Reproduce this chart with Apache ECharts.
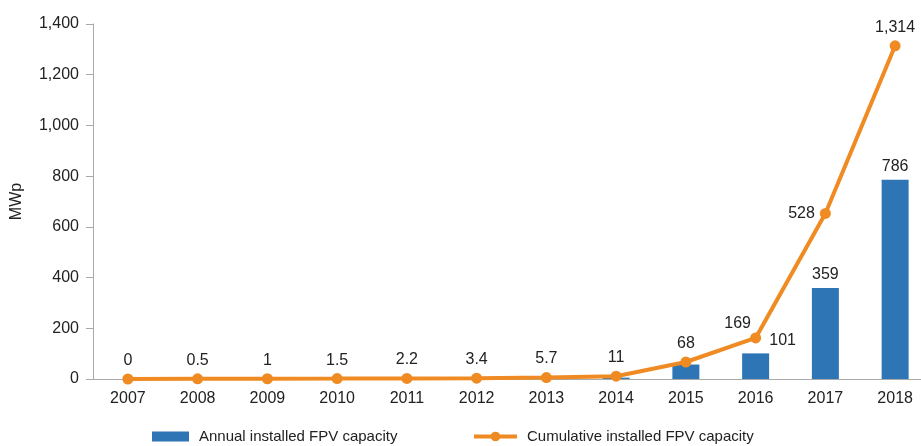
<!DOCTYPE html>
<html>
<head>
<meta charset="utf-8">
<script src="https://cdn.jsdelivr.net/npm/echarts@6/dist/echarts.min.js"></script>
<style>
html,body{margin:0;padding:0;background:#fff;overflow:hidden;width:921px;height:446px;}
#chart{width:931px;height:446px;}
</style>
</head>
<body>
<div id="chart"></div>
<script>
var years = ['2007','2008','2009','2010','2011','2012','2013','2014','2015','2016','2017','2018'];
var annual = [0, 0.5, 0.5, 0.5, 0.7, 1.2, 2.3, 5.3, 57, 101, 359, 786];
var annualLabels = ['', '', '', '', '', '', '', '', '', '101', '359', '786'];
var cumulative = [0, 0.5, 1, 1.5, 2.2, 3.4, 5.7, 11, 67, 162, 653, 1314];
var cumulativeLabels = ['0', '0.5', '1', '1.5', '2.2', '3.4', '5.7', '11', '68', '169', '528', '1,314'];
var yTicks = [0, 200, 400, 600, 800, 1000, 1200, 1400];

var FONT = 'Liberation Sans, Arial, sans-serif';
var TXT = '#222';
var BLUE = '#2E75B6';
var ORANGE = '#EF8B22';
var FS = 16;

var barData = annual.map(function (v, i) {
  var item = { value: v };
  if (annualLabels[i]) {
    item.label = { show: true, position: 'top', formatter: annualLabels[i] };
    if (i === 9) item.label.offset = [27, 0];
  }
  return item;
});

var lineData = cumulative.map(function (v, i) {
  var item = { value: v, label: { show: true, position: 'top', formatter: cumulativeLabels[i] } };
  if (i === 9) { item.label.offset = [-18, 4]; }
  if (i === 10) { item.label.position = 'left'; }
  return item;
});

var chart = echarts.init(document.getElementById('chart'), null, { renderer: 'canvas' });
chart.setOption({
  animation: false,
  backgroundColor: '#fff',
  textStyle: { fontFamily: FONT },
  grid: { left: 93, top: 24, right: 1, bottom: 67, containLabel: false },
  legend: [
    {
      left: 152, top: 429, padding: 0,
      itemWidth: 37, itemHeight: 10,
      icon: 'rect',
      data: ['Annual installed FPV capacity'],
      textStyle: { fontFamily: FONT, fontSize: 15, color: TXT, padding: [0, 0, 0, 5] }
    },
    {
      left: 472, top: 429, padding: 0,
      itemWidth: 43, itemHeight: 12,
      lineStyle: { width: 4 },
      data: ['Cumulative installed FPV capacity'],
      textStyle: { fontFamily: FONT, fontSize: 15, color: TXT, padding: [0, 0, 0, 5] }
    }
  ],
  xAxis: {
    type: 'category',
    data: years,
    axisLine: { show: true, lineStyle: { color: '#aaa', width: 1 } },
    axisTick: { show: false },
    axisLabel: { color: TXT, fontSize: FS, fontFamily: FONT, margin: 12 }
  },
  yAxis: {
    type: 'value',
    min: yTicks[0],
    max: yTicks[yTicks.length - 1],
    interval: 200,
    name: 'MWp',
    nameLocation: 'middle',
    nameGap: 68,
    nameTextStyle: { color: TXT, fontSize: FS, fontFamily: FONT },
    axisLine: { show: true, lineStyle: { color: '#aaa', width: 1 } },
    axisTick: { show: true, length: 7, lineStyle: { color: '#aaa' } },
    splitLine: { show: false },
    axisLabel: {
      color: TXT, fontSize: FS, fontFamily: FONT, margin: 14,
      formatter: function (v) { return v.toLocaleString('en-US'); }
    }
  },
  series: [
    {
      name: 'Annual installed FPV capacity',
      type: 'bar',
      barWidth: 27,
      itemStyle: { color: BLUE },
      label: { color: TXT, fontSize: FS, fontFamily: FONT },
      data: barData,
      z: 2
    },
    {
      name: 'Cumulative installed FPV capacity',
      type: 'line',
      symbol: 'circle',
      symbolSize: 11,
      lineStyle: { color: ORANGE, width: 4 },
      itemStyle: { color: ORANGE },
      label: { color: TXT, fontSize: FS, fontFamily: FONT },
      data: lineData,
      z: 3
    }
  ]
});
</script>
</body>
</html>
